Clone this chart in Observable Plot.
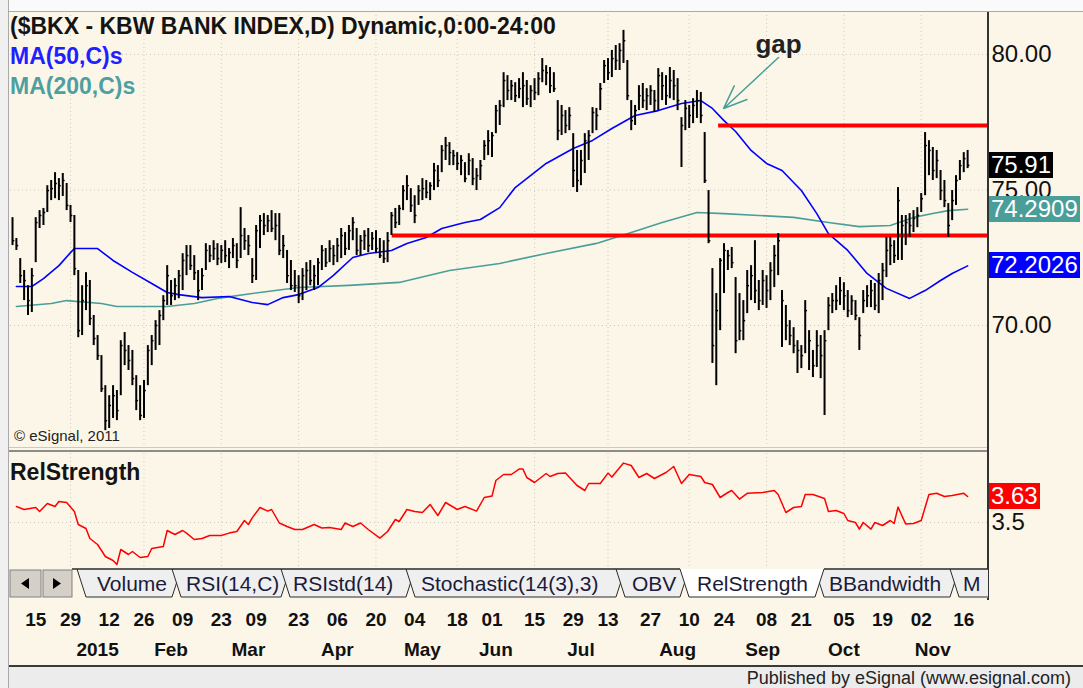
<!DOCTYPE html>
<html><head><meta charset="utf-8">
<script src="https://cdn.jsdelivr.net/npm/d3@7"></script>
<script src="https://cdn.jsdelivr.net/npm/@observablehq/plot@0.6"></script>
<style>
html,body{margin:0;padding:0;background:#fff;}
#wrap{position:relative;width:1083px;height:688px;background:#fcf6e9;overflow:hidden;font-family:"Liberation Sans",Arial,sans-serif;}
.abs{position:absolute;white-space:nowrap;}
.vbox{position:absolute;left:989px;color:#fff;font-size:24px;line-height:26px;height:26px;padding:0 2px;}
</style></head><body><div id="wrap"></div><script>
// ---------- data ----------
const hi = [73.98,73.21,72.47,72.03,71.47,72.10,73.98,74.24,74.32,75.16,
75.35,75.64,75.42,75.61,75.24,74.43,74.06,72.03,71.47,71.95,
71.66,70.37,69.63,68.89,67.78,67.41,67.78,67.60,69.44,69.74,
69.26,69.08,68.15,67.78,67.97,69.26,69.63,70.18,70.55,71.10,
72.21,71.66,71.73,72.03,72.65,72.95,72.95,72.58,72.03,72.10,
73.02,72.95,73.13,73.02,72.95,73.13,72.84,73.21,73.02,74.35,
73.58,73.32,72.47,73.69,74.06,74.13,74.06,74.24,74.13,74.13,
73.32,72.77,72.40,72.03,
71.84,72.10,72.32,72.40,72.21,72.47,72.95,72.84,73.13,72.95,
73.21,73.58,73.43,73.69,73.98,73.58,73.32,73.50,73.58,73.43,
73.50,73.21,73.13,73.43,74.17,74.32,74.43,75.16,75.53,75.05,
74.79,75.16,75.42,75.35,75.27,75.98,75.90,76.64,76.94,76.75,
76.46,76.38,76.27,76.01,76.34,76.16,75.79,76.09,76.82,77.19,
77.12,78.12,78.30,79.33,79.22,79.04,78.96,79.11,79.33,79.04,
78.85,79.11,79.33,79.85,79.59,79.52,79.33,78.30,78.12,77.93,
78.04,77.08,76.46,76.46,77.08,77.19,78.04,78.01,78.93,79.78,
79.85,80.15,80.33,80.40,80.89,79.78,78.30,78.12,78.85,78.93,
78.74,78.85,78.67,79.48,79.33,79.22,79.52,79.41,79.11,77.67,
78.30,78.12,78.37,78.67,78.60,77.12,74.98,72.10,71.18,72.47,
73.02,72.77,72.88,71.77,71.18,70.92,72.03,72.21,73.13,71.66,
72.03,71.84,72.32,72.95,73.39,71.29,70.74,70.18,69.92,69.44,
69.26,70.92,69.81,69.08,69.81,69.63,69.81,71.03,71.18,71.47,
71.77,71.58,71.29,71.10,70.92,70.29,71.29,71.47,71.66,71.55,
71.92,72.29,73.25,73.25,73.13,75.09,74.06,74.06,74.13,74.24,
74.35,74.87,77.12,76.82,76.57,76.46,75.72,75.35,74.50,74.98,
75.53,76.09,76.38,76.46];
const lo = [72.95,72.77,71.55,70.92,70.37,70.48,72.32,73.58,73.69,74.17,
74.61,74.68,74.61,74.76,74.24,73.80,71.84,69.55,69.63,70.55,
70.00,69.26,68.71,67.53,66.12,66.20,66.57,66.49,67.41,68.52,
68.34,67.78,66.86,66.49,66.57,67.78,68.52,69.08,69.26,70.18,
70.74,70.74,70.92,70.99,71.29,71.84,72.03,71.66,70.92,71.29,
72.03,72.32,72.40,72.21,72.29,72.32,72.10,72.47,72.10,72.47,
72.77,72.58,71.55,71.66,72.84,73.32,73.43,73.43,73.13,72.58,
72.47,71.55,71.29,71.22,
70.81,70.92,71.29,71.47,71.29,71.47,72.03,72.14,72.32,72.21,
72.32,72.47,72.58,72.77,73.13,72.58,72.58,72.77,72.69,72.77,
72.65,72.47,72.29,72.32,73.32,73.58,73.69,74.24,74.61,74.17,
73.76,74.43,74.61,74.68,74.61,74.98,75.09,75.64,76.09,75.90,
75.90,75.72,75.53,75.27,75.53,75.16,74.98,75.35,76.09,76.27,
76.20,77.08,77.38,78.04,78.30,78.30,78.23,78.37,78.04,78.12,
78.04,78.30,78.48,78.96,78.85,78.56,78.60,76.82,77.01,77.08,
77.19,75.09,74.91,75.16,75.61,76.09,77.08,77.19,77.93,78.93,
79.04,79.15,79.41,79.41,79.67,78.30,77.19,77.38,77.93,78.01,
77.93,78.12,77.86,77.93,78.30,78.12,78.37,78.30,77.93,75.83,
77.19,77.27,77.45,77.64,77.45,75.24,73.02,68.60,67.78,69.81,
71.18,72.03,72.10,68.96,69.44,69.44,70.44,70.92,70.81,70.55,
70.74,70.63,70.92,71.40,71.84,69.19,69.44,69.26,68.96,68.23,
68.41,68.96,68.34,68.08,68.45,68.04,66.68,69.81,70.44,70.55,
70.74,70.55,70.29,70.37,70.18,69.08,70.44,70.66,70.66,70.55,
70.44,70.92,71.77,72.21,72.29,72.40,72.40,72.95,73.25,73.43,
73.61,74.17,74.79,75.53,75.35,75.42,74.61,74.35,73.25,73.87,
74.43,75.35,75.64,75.79];
const cl = [73.13,72.95,71.84,71.66,70.92,71.84,73.80,74.06,74.17,74.98,
75.05,75.24,75.16,75.35,74.43,74.06,72.10,69.81,70.92,71.47,
70.26,69.52,68.89,67.67,66.49,67.05,67.41,66.86,69.26,69.08,
68.71,68.04,67.23,66.68,67.60,69.08,69.44,70.00,70.37,70.92,
71.84,71.10,71.47,71.84,72.40,72.58,72.21,71.95,71.29,71.84,
72.77,72.58,72.84,72.47,72.77,72.58,72.69,72.95,72.40,73.32,
73.13,72.95,71.84,73.50,73.87,73.69,73.87,73.58,73.69,72.77,
72.95,71.84,71.47,71.47,
71.10,71.84,72.03,71.66,71.84,72.32,72.77,72.32,72.84,72.58,
72.95,73.32,72.84,73.50,73.80,72.77,73.13,73.32,72.95,73.21,
72.84,72.58,72.47,73.13,74.06,73.80,74.32,74.98,75.16,74.43,
74.06,74.98,75.05,74.91,75.16,75.72,75.35,76.46,76.64,76.38,
76.27,75.98,76.09,75.42,76.09,75.42,75.53,75.90,76.64,76.82,
77.01,77.93,78.12,79.04,78.67,78.85,78.48,78.74,78.85,78.37,
78.67,78.60,79.11,79.41,79.33,78.85,78.74,77.19,77.75,77.38,
77.75,75.72,75.35,76.09,76.82,77.01,77.86,77.75,78.74,79.59,
79.33,79.85,79.78,80.15,80.51,78.48,77.56,77.93,78.48,78.30,
78.48,78.67,78.30,79.22,78.85,78.48,79.04,78.85,78.30,77.38,
78.01,77.75,78.12,78.30,77.75,75.35,73.13,69.26,70.55,72.40,
72.77,72.58,72.32,69.44,69.81,70.18,71.47,71.84,71.29,70.92,
71.66,71.29,72.03,72.58,73.13,70.92,70.00,69.63,69.26,69.08,
68.89,70.55,69.44,68.52,69.26,68.89,69.44,70.74,70.92,70.92,
71.29,71.10,70.55,70.92,70.37,69.63,70.92,71.10,71.29,70.74,
71.66,72.03,72.77,72.95,72.58,74.61,73.69,73.80,73.69,73.95,
74.06,74.68,76.64,76.46,75.72,76.09,74.98,74.61,73.69,74.61,
75.35,75.90,76.16,75.91];

const ma50Idx = [1,5,8,12,15,16,22,26,31,36,40,43,49,56,62,66,70,74,79,83,88,92,98,102,107,111,117,121,126,130,138,145,150,155,161,167,173,178,181,184,187,191,195,199,204,208,211,216,221,226,232,236,240,243,247];
const ma50Val = [71.44,71.44,71.73,72.21,72.69,72.84,72.84,72.40,71.96,71.55,71.22,71.14,71.03,71.07,70.85,70.77,71.03,71.14,71.40,71.85,72.51,72.66,72.77,73.03,73.25,73.58,73.80,73.91,74.35,75.09,75.98,76.53,76.83,77.27,77.75,77.93,78.19,78.30,78.01,77.56,77.16,76.46,75.98,75.72,74.98,74.13,73.39,72.77,71.92,71.37,71.00,71.29,71.66,71.92,72.20];
const ma200Idx = [1,10,14,23,27,40,47,53,62,74,87,100,113,126,138,151,159,168,177,184,193,202,211,219,227,233,238,242,247];
const ma200Val = [70.70,70.81,70.92,70.81,70.70,70.70,70.81,71.00,71.18,71.40,71.48,71.59,72.03,72.29,72.66,73.03,73.39,73.80,74.17,74.13,74.06,73.99,73.80,73.65,73.69,73.99,74.13,74.24,74.29];

const rsIdx = [1,3,6,7,9,11,12,14,16,17,19,20,22,24,26,27,28,30,31,33,35,36,39,40,42,44,45,47,49,51,54,56,58,60,61,62,64,66,67,69,71,73,75,78,80,82,85,86,88,90,92,95,97,99,100,102,104,106,108,110,112,115,117,120,122,124,125,127,129,131,132,133,135,138,139,141,143,146,148,149,152,154,155,158,160,162,164,166,169,171,173,175,178,179,181,183,185,186,188,190,194,197,198,200,202,204,205,207,210,211,213,215,216,218,219,220,222,223,225,227,228,229,231,233,235,237,239,241,243,246,247];
const rsVal = [3.58,3.565,3.575,3.555,3.595,3.58,3.605,3.60,3.555,3.49,3.47,3.42,3.39,3.33,3.31,3.29,3.365,3.34,3.355,3.325,3.33,3.37,3.38,3.46,3.44,3.46,3.447,3.415,3.42,3.435,3.435,3.447,3.455,3.51,3.49,3.523,3.575,3.557,3.565,3.4975,3.48,3.465,3.465,3.49,3.4725,3.475,3.465,3.4975,3.48,3.4975,3.465,3.422,3.455,3.515,3.505,3.565,3.555,3.55,3.59,3.535,3.60,3.565,3.58,3.557,3.625,3.632,3.71,3.74,3.74,3.767,3.767,3.725,3.70,3.745,3.73,3.745,3.747,3.685,3.66,3.695,3.695,3.747,3.727,3.797,3.785,3.725,3.745,3.72,3.75,3.78,3.695,3.74,3.73,3.70,3.69,3.625,3.65,3.66,3.617,3.646,3.65,3.66,3.64,3.55,3.575,3.58,3.64,3.64,3.62,3.555,3.56,3.545,3.51,3.50,3.467,3.50,3.467,3.50,3.485,3.51,3.495,3.577,3.492,3.495,3.51,3.64,3.646,3.63,3.635,3.646,3.63];

const dayIdx = [6,15,25,34,44,54,63,74,84,94,104,115,124,135,145,154,165,175,184,195,204,215,225,235,246];
const dayLabels = ["15","29","12","26","09","23","09","23","06","20","04","18","01","15","29","13","27","10","24","08","21","05","19","02","16"];
const monthIdx = [22,41,61,84,106,125,147,172,194,215,238];
const monthLabels = ["2015","Feb","Mar","Apr","May","Jun","Jul","Aug","Sep","Oct","Nov"];
const gridIdx = [15,34,54,74,94,115,135,154,175,195,215,235];

const priceTicks = [70, 75, 80];
const rsTicks = [3.5];
const resistance = [{from: 182.6, price: 77.38}, {from: 98.2, price: 73.32}];
const gapArrow = [{x1: 198.1, y1: 79.89, x2: 183.9, y2: 78.01}];
const gapNote = [{x: 198.1, y: 80.37, text: "gap"}];
const lastPrice = [{label: "75.91", value: 75.91, bg: "#000000"}, {label: "74.2909", value: 74.2909, bg: "#4a9e99"}, {label: "72.2026", value: 72.2026, bg: "#0000ff"}];
const lastRS = [{label: "3.63", value: 3.63, bg: "#ff0000"}];
const tabs = [
  {label: "Volume", xl: 77, xr: 181, tx: 97},
  {label: "RSI(14,C)", xl: 172, xr: 290, tx: 186},
  {label: "RSIstd(14)", xl: 281, xr: 415, tx: 293},
  {label: "Stochastic(14(3),3)", xl: 406, xr: 625, tx: 421},
  {label: "OBV", xl: 616, xr: 689, tx: 632},
  {label: "BBandwidth", xl: 815, xr: 959, tx: 829},
  {label: "M", xl: 950, xr: 1010, tx: 963},
  {label: "RelStrength", xl: 680, xr: 824, tx: 697, active: true}
];

// ---------- build ----------
const FONT = '"Liberation Sans", Arial, sans-serif';
const TEAL = "#4a9e99";
const xDomain = [-0.52, 252.4];
const bars = hi.map((h, i) => ({i, hi: h, lo: lo[i], cl: cl[i]}));
const ma50 = ma50Idx.map((i, k) => ({i, v: ma50Val[k]}));
const ma200 = ma200Idx.map((i, k) => ({i, v: ma200Val[k]}));
const rs = rsIdx.map((i, k) => ({i, v: rsVal[k]}));
const dayMap = new Map(dayIdx.map((d, k) => [d, dayLabels[k]]));
const monMap = new Map(monthIdx.map((d, k) => [d, monthLabels[k]]));
const dotted = {stroke: "#cfcac0", strokeOpacity: 1, strokeDasharray: "1,3"};

const wrap = document.getElementById("wrap");

const price = Plot.plot({
  width: 1083, height: 440,
  marginLeft: 10, marginRight: 95, marginTop: 0, marginBottom: 0,
  x: {domain: xDomain, axis: null, label: null},
  y: {domain: [65.351, 81.587], label: null},
  style: {background: "transparent", overflow: "visible", fontFamily: FONT, color: "#111"},
  marks: [
    Plot.gridY(priceTicks, dotted),
    Plot.gridX(gridIdx, dotted),
    Plot.axisY(priceTicks, {anchor: "right", label: null, tickSize: 0, tickPadding: 3, fontSize: 24, tickFormat: d => d.toFixed(2)}),
    Plot.line(ma200, {x: "i", y: "v", stroke: TEAL, strokeWidth: 1.6}),
    Plot.line(ma50, {x: "i", y: "v", stroke: "#0000ff", strokeWidth: 1.6}),
    Plot.ruleY(resistance, {x1: "from", x2: () => xDomain[1], y: "price", stroke: "#ff0000", strokeWidth: 4}),
    Plot.ruleX(bars, {x: "i", y1: "lo", y2: "hi", stroke: "#000", strokeWidth: 2}),
    Plot.ruleY(bars, {x1: "i", x2: d => d.i + 0.6, y: "cl", stroke: "#000", strokeWidth: 1.5}),
    Plot.arrow(gapArrow, {x1: "x1", y1: "y1", x2: "x2", y2: "y2", stroke: TEAL, strokeWidth: 1.5, headLength: 30, headAngle: 44}),
    Plot.text(gapNote, {x: "x", y: "y", text: "text", fontSize: 26, fontWeight: "bold", fill: "#222"})
  ]
});
price.style.position = "absolute"; price.style.left = "0px"; price.style.top = "11px";
wrap.appendChild(price);

const rsPlot = Plot.plot({
  width: 1083, height: 215,
  marginLeft: 10, marginRight: 95, marginTop: 0, marginBottom: 100,
  x: {domain: xDomain, label: null},
  y: {domain: [3.27, 3.845], label: null},
  style: {background: "transparent", overflow: "visible", fontFamily: FONT, color: "#111"},
  marks: [
    Plot.gridY(rsTicks, dotted),
    Plot.gridX(gridIdx, dotted),
    Plot.axisY(rsTicks, {anchor: "right", label: null, tickSize: 0, tickPadding: 3, fontSize: 24, tickFormat: d => String(d)}),
    Plot.line(rs, {x: "i", y: "v", stroke: "#ff0000", strokeWidth: 1.5}),
    Plot.axisX(dayIdx, {anchor: "bottom", label: null, tickSize: 0, tickPadding: 44, fontSize: 19, fontWeight: "bold", tickFormat: d => dayMap.get(d)}),
    Plot.axisX(monthIdx, {anchor: "bottom", label: null, tickSize: 0, tickPadding: 74, fontSize: 19, fontWeight: "bold", tickFormat: d => monMap.get(d)})
  ]
});
rsPlot.style.position = "absolute"; rsPlot.style.left = "0px"; rsPlot.style.top = "453px";
wrap.appendChild(rsPlot);

function addDiv(css, text) {
  const d = document.createElement("div");
  d.className = "abs";
  d.style.cssText += css;
  if (text != null) d.textContent = text;
  wrap.appendChild(d);
  return d;
}
// chrome
addDiv("left:0;top:0;width:1083px;height:11px;background:#fafafa;border-bottom:1px solid #a9a9a9;");
addDiv("left:0;top:0;width:8px;height:688px;background:#f0f0f0;border-right:1px solid #a9a9a9;");
addDiv("left:9px;top:447px;width:978px;height:1px;background:#c9c9c9;");
addDiv("left:9px;top:450px;width:978px;height:2px;background:#8c8c8c;");
addDiv("left:987px;top:12px;width:2px;height:588px;background:#333;");
addDiv("left:9px;top:665px;width:1074px;height:2px;background:#3a3a3a;");
addDiv("left:9px;top:667px;width:1074px;height:21px;background:#ececec;");

// texts
addDiv("left:10px;top:15px;font-size:23px;font-weight:bold;color:#141414;line-height:23px;", "($BKX - KBW BANK INDEX,D) Dynamic,0:00-24:00");
addDiv("left:10px;top:45px;font-size:23px;font-weight:bold;color:#1f1fff;line-height:23px;", "MA(50,C)s");
addDiv("left:10px;top:75px;font-size:23px;font-weight:bold;color:#4e9f9f;line-height:23px;", "MA(200,C)s");
addDiv("left:14px;top:428px;font-size:15px;color:#222;line-height:15px;", "© eSignal, 2011");
addDiv("left:10px;top:461px;font-size:23px;font-weight:bold;color:#141414;line-height:23px;", "RelStrength");
addDiv("right:12px;top:668px;font-size:18px;color:#222;line-height:20px;", "Published by eSignal (www.esignal.com)");

// last-value boxes via scales
const py = price.scale("y");
lastPrice.forEach(d => {
  const b = addDiv("", d.label);
  b.className = "vbox";
  b.style.background = d.bg;
  b.style.top = (11 + py.apply(d.value) - 13) + "px";
});
const ry = rsPlot.scale("y");
lastRS.forEach(d => {
  const b = addDiv("", d.label);
  b.className = "vbox";
  b.style.background = d.bg;
  b.style.top = (453 + ry.apply(d.value) - 13) + "px";
});

// tab strip
const ns = "http://www.w3.org/2000/svg";
let s = `<svg xmlns="${ns}" width="988" height="33" style="position:absolute;left:0;top:567px;font-family:${FONT}">`;
s += `<rect x="9" y="2" width="979" height="29" fill="#fcf6e9"/>`;
s += `<rect x="10" y="3" width="31" height="27" fill="#d4d0c8" stroke="#808080"/>`;
s += `<rect x="43" y="3" width="29" height="27" fill="#d4d0c8" stroke="#808080"/>`;
s += `<polygon points="21,16.5 29,11 29,22" fill="#000"/>`;
s += `<polygon points="53,11 53,22 61,16.5" fill="#000"/>`;
tabs.forEach(t => {
  const fill = t.active ? "#ffffff" : "#efefef";
  s += `<polygon points="${t.xl},2 ${t.xl+9},30 ${t.xr-9},30 ${t.xr},2" fill="${fill}"/>`;
  s += `<polyline points="${t.xl},2 ${t.xl+9},30 ${t.xr-9},30 ${t.xr},2" fill="none" stroke="#2a2a2a" stroke-width="1"/>`;
  s += `<text x="${t.tx}" y="24" font-size="21" fill="#1b1b3a">${t.label}</text>`;
});
const act = tabs.find(t => t.active);
s += `<line x1="72" y1="2" x2="${act.xl}" y2="2" stroke="#2a2a2a" stroke-width="1.5"/>`;
s += `<line x1="${act.xr}" y1="2" x2="988" y2="2" stroke="#2a2a2a" stroke-width="1.5"/>`;
s += `</svg>`;
const holder = document.createElement("div");
holder.innerHTML = s;
wrap.appendChild(holder.firstChild);
</script></body></html>
